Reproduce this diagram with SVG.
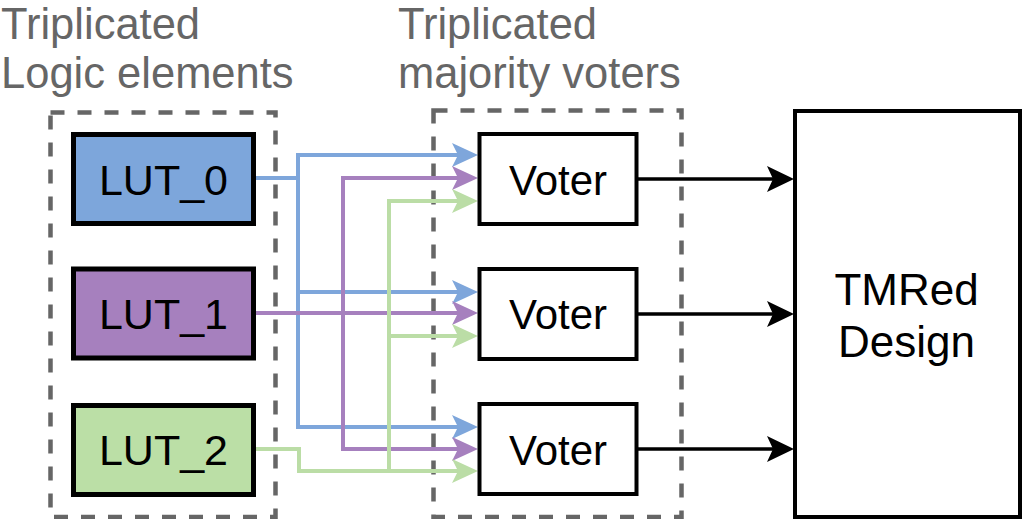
<svg xmlns="http://www.w3.org/2000/svg" width="1024" height="519" viewBox="0 0 1024 519">
  <style>
    .lbl { font-family: "Liberation Sans", Arial, sans-serif; font-size: 43.5px; fill: #666666; }
    .txt { font-family: "Liberation Sans", Arial, sans-serif; fill: #000000; text-anchor: middle; }
    .dash { fill: none; stroke: #666666; stroke-width: 4.5; stroke-dasharray: 14 13; }
    .lut { stroke: #000000; stroke-width: 5; }
    .box { fill: #ffffff; stroke: #000000; stroke-width: 4; }
    .w { fill: none; stroke-width: 4; }
    .b { stroke: #7EA6DB; }
    .p { stroke: #A680BE; }
    .g { stroke: #BBDDA6; }
    .k { fill: none; stroke: #000000; stroke-width: 3.5; }
  </style>
  <defs>
    <marker id="ab" markerUnits="userSpaceOnUse" markerWidth="26" markerHeight="24" refX="14" refY="12" orient="auto" viewBox="0 0 26 24">
      <path d="M0,0 L26,12 L0,24 L6,12 z" fill="#7EA6DB"/>
    </marker>
    <marker id="ap" markerUnits="userSpaceOnUse" markerWidth="26" markerHeight="24" refX="14" refY="12" orient="auto" viewBox="0 0 26 24">
      <path d="M0,0 L26,12 L0,24 L6,12 z" fill="#A680BE"/>
    </marker>
    <marker id="ag" markerUnits="userSpaceOnUse" markerWidth="26" markerHeight="24" refX="14" refY="12" orient="auto" viewBox="0 0 26 24">
      <path d="M0,0 L26,12 L0,24 L6,12 z" fill="#BBDDA6"/>
    </marker>
    <marker id="ak" markerUnits="userSpaceOnUse" markerWidth="27" markerHeight="26" refX="14" refY="13" orient="auto" viewBox="0 0 27 26">
      <path d="M0,0 L27,13 L0,26 L6,13 z" fill="#000000"/>
    </marker>
  </defs>

  <g id="labels">
    <text class="lbl" x="1" y="39">Triplicated</text>
    <text class="lbl" x="1" y="88">Logic elements</text>
    <text class="lbl" x="398" y="39">Triplicated</text>
    <text class="lbl" x="398" y="88">majority voters</text>
  </g>

  <g id="group-luts">
    <rect class="dash" x="50.5" y="112.5" width="225" height="404.5"/>
  </g>
  <g id="group-voters">
    <rect class="dash" x="433.5" y="110.5" width="248" height="406.5"/>
  </g>

  <g id="connectors">
    <path class="w b" d="M254,178 H298 V155 H466" marker-end="url(#ab)"/>
    <path class="w b" d="M298,178 V292 H466" marker-end="url(#ab)"/>
    <path class="w b" d="M298,292 V427 H466" marker-end="url(#ab)"/>
    <path class="w p" d="M254,313 H466" marker-end="url(#ap)"/>
    <path class="w p" d="M343,313 V178 H466" marker-end="url(#ap)"/>
    <path class="w p" d="M343,313 V449 H466" marker-end="url(#ap)"/>
    <path class="w g" d="M254,449 H299 V471 H466" marker-end="url(#ag)"/>
    <path class="w g" d="M389,471 V336 H466" marker-end="url(#ag)"/>
    <path class="w g" d="M389,336 V201 H466" marker-end="url(#ag)"/>
    <path class="k" d="M637,179 H781" marker-end="url(#ak)"/>
    <path class="k" d="M637,314 H781" marker-end="url(#ak)"/>
    <path class="k" d="M637,449 H781" marker-end="url(#ak)"/>
  </g>

  <g id="lut0">
    <rect class="lut" x="73.5" y="134.5" width="180" height="89" fill="#7DA6DB"/>
    <text class="txt" x="163.5" y="195" font-size="43">LUT_0</text>
  </g>
  <g id="lut1">
    <rect class="lut" x="73.5" y="269" width="180" height="89" fill="#A680BE"/>
    <text class="txt" x="163.5" y="329" font-size="43">LUT_1</text>
  </g>
  <g id="lut2">
    <rect class="lut" x="73.5" y="405.5" width="180" height="89" fill="#BBDFA6"/>
    <text class="txt" x="163.5" y="465" font-size="43">LUT_2</text>
  </g>

  <g id="voter0">
    <rect class="box" x="479.5" y="134" width="157" height="90"/>
    <text class="txt" x="558" y="195" font-size="42">Voter</text>
  </g>
  <g id="voter1">
    <rect class="box" x="479.5" y="269" width="157" height="90"/>
    <text class="txt" x="558" y="329" font-size="42">Voter</text>
  </g>
  <g id="voter2">
    <rect class="box" x="479.5" y="404" width="157" height="90"/>
    <text class="txt" x="558" y="465" font-size="42">Voter</text>
  </g>

  <g id="tmred">
    <rect class="box" x="795" y="111" width="225" height="406"/>
    <text class="txt" x="906.5" y="305" font-size="44">TMRed</text>
    <text class="txt" x="906.5" y="357" font-size="44">Design</text>
  </g>
</svg>
